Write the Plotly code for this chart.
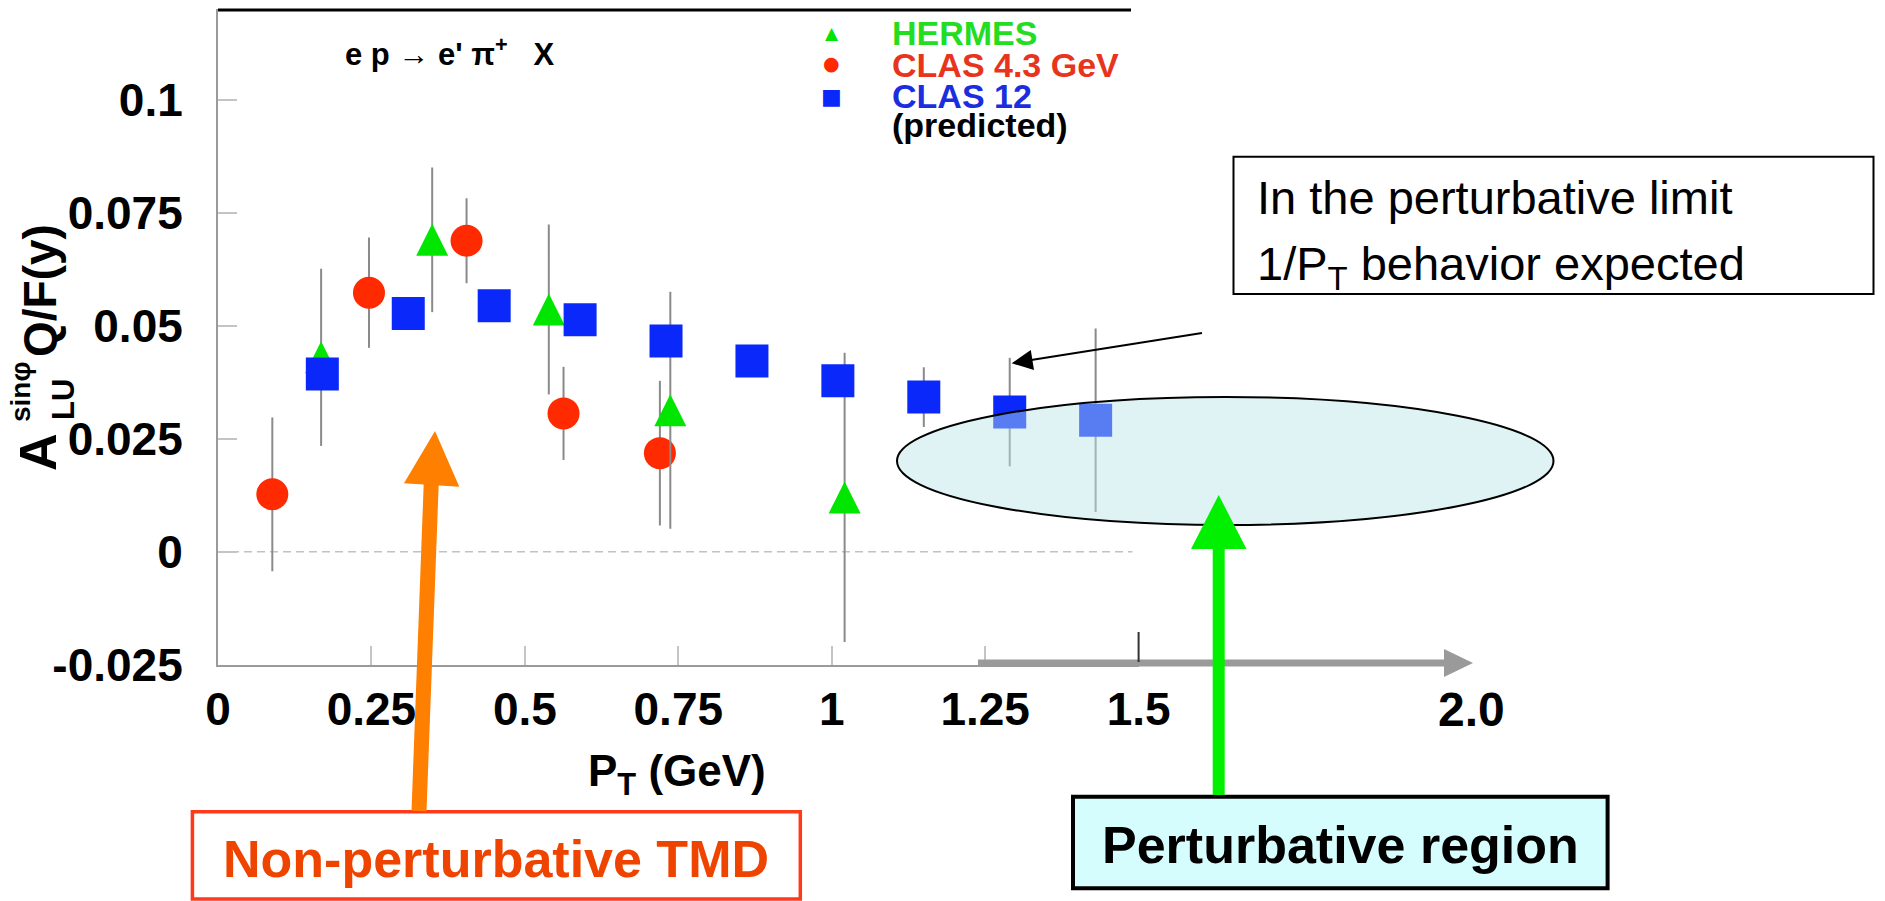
import plotly.graph_objects as go

W, H = 1885, 901

# ---------------- data ----------------
hermes_pt = [0.168, 0.349, 0.539, 0.737, 1.021]
hermes_a = [0.043, 0.069, 0.0536, 0.0313, 0.012]
hermes_err = [0.0196, 0.016, 0.0188, 0.0262, 0.032]

clas43_pt = [0.0885, 0.246, 0.405, 0.563, 0.720]
clas43_a = [0.0127, 0.0573, 0.0688, 0.0306, 0.0218]
clas43_err = [0.017, 0.0122, 0.0094, 0.0103, 0.016]

clas12_pt = [0.17, 0.31, 0.45, 0.59, 0.73, 0.87, 1.01, 1.15, 1.29, 1.43]
clas12_a = [0.0393, 0.0527, 0.0544, 0.0513, 0.0466, 0.0422, 0.0378, 0.0342, 0.0309, 0.0291]
clas12_err = [0.003, 0.003, 0.003, 0.003, 0.003, 0.003, 0.003, 0.0066, 0.012, 0.0203]

x_tickvals = [0, 0.25, 0.5, 0.75, 1.0, 1.25, 1.5]
x_ticktext = ["0", "0.25", "0.5", "0.75", "1", "1.25", "1.5"]
y_tickvals = [-0.025, 0, 0.025, 0.05, 0.075, 0.1]
y_ticktext = ["-0.025", "0", "0.025", "0.05", "0.075", "0.1"]

# ---------------- styling ----------------
FONT = "Liberation Sans, Arial, Helvetica, sans-serif"
SYM = "DejaVu Sans, sans-serif"
GREEN = "#00e600"
RED = "#ff2a00"
BLUE = "#0a28fa"
BAR = "#8a8a8a"


def px(x):
    """pixel column -> paper fraction"""
    return x / W


def py(y):
    """pixel row (from top) -> paper fraction"""
    return 1 - y / H


fig = go.Figure()


def add_series(name, xs, ys, errs, color, symbol, size, **extra):
    fig.add_trace(go.Scatter(
        x=xs, y=ys, mode="markers", name=name, showlegend=False,
        error_y=dict(type="data", array=errs, visible=True,
                     color=BAR, thickness=2, width=0),
        marker=dict(color=color, symbol=symbol, size=size,
                    line=dict(width=0), **extra),
    ))


# draw order: CLAS 4.3 GeV, then HERMES, then CLAS12 on top
add_series("CLAS 4.3 GeV", clas43_pt, clas43_a, clas43_err, RED, "circle", 32)
add_series("HERMES", hermes_pt, hermes_a, hermes_err, GREEN, "arrow-down", 32,
           angle=180, standoff=16)
add_series("CLAS 12 (predicted)", clas12_pt, clas12_a, clas12_err, BLUE, "square", 33)

tickfont = dict(family=FONT, size=46, color="black", weight="bold")

fig.update_layout(
    width=W, height=H,
    margin=dict(l=0, r=0, t=0, b=0),
    paper_bgcolor="white", plot_bgcolor="white",
    showlegend=False,
    xaxis=dict(
        domain=[px(218), px(1138.6)], range=[0, 1.5],
        tickmode="array", tickvals=x_tickvals, ticktext=x_ticktext,
        ticks="inside", ticklen=19, tickwidth=1.5, tickcolor="#c4c4c4",
        showline=True, linecolor="#9a9a9a", linewidth=2,
        showgrid=False, zeroline=False, tickfont=tickfont,
        ticklabelstandoff=3, automargin=False,
    ),
    yaxis=dict(
        domain=[py(664.7), py(9.3)], range=[-0.025, 0.12],
        tickmode="array", tickvals=y_tickvals, ticktext=y_ticktext,
        ticks="inside", ticklen=19, tickwidth=1.5, tickcolor="#c4c4c4",
        showline=True, linecolor="#9a9a9a", linewidth=2,
        showgrid=False, zeroline=False, tickfont=tickfont,
        ticklabelstandoff=24, automargin=False,
    ),
)


# ---------------- shapes ----------------
def seg(x0, y0, x1, y1, color, width, dash=None):
    fig.add_shape(type="line", xref="paper", yref="paper",
                  x0=px(x0), y0=py(y0), x1=px(x1), y1=py(y1),
                  line=dict(color=color, width=width, dash=dash), layer="above")


def poly(pts, color):
    path = "M " + " L ".join(f"{px(a):.5f},{py(b):.5f}" for a, b in pts) + " Z"
    fig.add_shape(type="path", xref="paper", yref="paper", path=path,
                  fillcolor=color, line=dict(width=0), layer="above")


def box(x0, y0, x1, y1, edge, width, fill):
    fig.add_shape(type="rect", xref="paper", yref="paper",
                  x0=px(x0), y0=py(y1), x1=px(x1), y1=py(y0),
                  line=dict(color=edge, width=width), fillcolor=fill, layer="above")


# dashed zero line inside the frame
fig.add_shape(type="line", xref="x", yref="y", x0=0, x1=1.49, y0=0, y1=0,
              line=dict(color="#c2c2c2", width=1.5, dash="8px,5px"), layer="below")

# top frame line
seg(218, 10, 1131, 10, "black", 3)

# highlighted perturbative region
fig.add_shape(type="circle", xref="paper", yref="paper",
              x0=px(897), x1=px(1553.5), y0=py(525), y1=py(397),
              fillcolor="rgba(185,228,232,0.45)", line=dict(color="black", width=2),
              layer="above")

# extension of the P_T axis with arrow
seg(978, 663, 1447, 663, "#9a9a9a", 7)
poly([(1444, 649), (1444, 677), (1473, 663)], "#9a9a9a")
seg(1138.6, 632, 1138.6, 662, "#333333", 2)

# pointer from the 1/P_T note
seg(1202, 333, 1028, 360.6, "black", 2)
poly([(1030.8, 350.1), (1034.0, 369.9), (1011.7, 363.3)], "black")

# note box
box(1233.5, 156.7, 1873.5, 294, "black", 2, "rgba(255,255,255,0)")

# region labels
box(192.4, 811.7, 800.3, 899, "#ff3a1a", 3.5, "white")
box(1073, 796.7, 1607.6, 888.3, "black", 4, "#d6fdfd")

# orange arrow (non-perturbative)
seg(419, 811, 431.2, 484, "#ff7f00", 15)
poly([(404, 483.3), (459.3, 486.7), (435, 431)], "#ff7f00")

# green arrow (perturbative)
seg(1218.7, 795, 1218.7, 548, "#00f000", 12)
poly([(1191, 549), (1246.5, 549), (1218.7, 495)], "#00f000")


# ---------------- text ----------------
def label(text, x, y, size, color="black", bold=True, xanchor="center",
          yanchor="middle", angle=0, family=FONT):
    fig.add_annotation(text=text, x=px(x), y=py(y), xref="paper", yref="paper",
                       showarrow=False, xanchor=xanchor, yanchor=yanchor,
                       textangle=angle,
                       font=dict(family=family, size=size, color=color,
                                 weight="bold" if bold else "normal"))


# reaction
label("e p \u2192 e' \u03c0<sup>+</sup>\u00a0\u00a0\u00a0X", 343, 74, 31,
      xanchor="left", yanchor="bottom")

# legend
label("\u25b2", 831.7, 33.3, 17, GREEN, family=SYM)
label("\u25cf", 831.7, 63.3, 19, RED, family=SYM)
label("\u25a0", 831.7, 96.7, 22, BLUE, family=SYM)
label("HERMES", 890, 33.3, 34, "#22dd22", xanchor="left")
label("CLAS 4.3 GeV", 890, 64.7, 34, "#e8341c", xanchor="left")
label("CLAS 12", 890, 95.8, 34, "#1a2ee0", xanchor="left")
label("(predicted)", 890, 125, 34, "black", xanchor="left")

# y-axis title pieces
label("A", 38, 452, 52, angle=-90)
label("sin\u03c6", 20, 392, 28, angle=-90)
label("LU", 63, 400, 31, angle=-90)
label("Q/F(y)", 40, 291, 46, angle=-90)

# x-axis title and far tick
label("P<sub>T</sub> (GeV)", 677, 744, 44, yanchor="top")
label("2.0", 1471.5, 709, 48)

# note
label("In the perturbative limit", 1255, 197.5, 47, bold=False, xanchor="left")
label("1/P<sub>T</sub> behavior expected", 1255, 235, 47, bold=False,
      xanchor="left", yanchor="top")

# region captions
label("Non-perturbative TMD", 496, 859, 52, "#ee4400")
label("Perturbative region", 1340.5, 845, 52, "black")

fig.write_html("out.html")
